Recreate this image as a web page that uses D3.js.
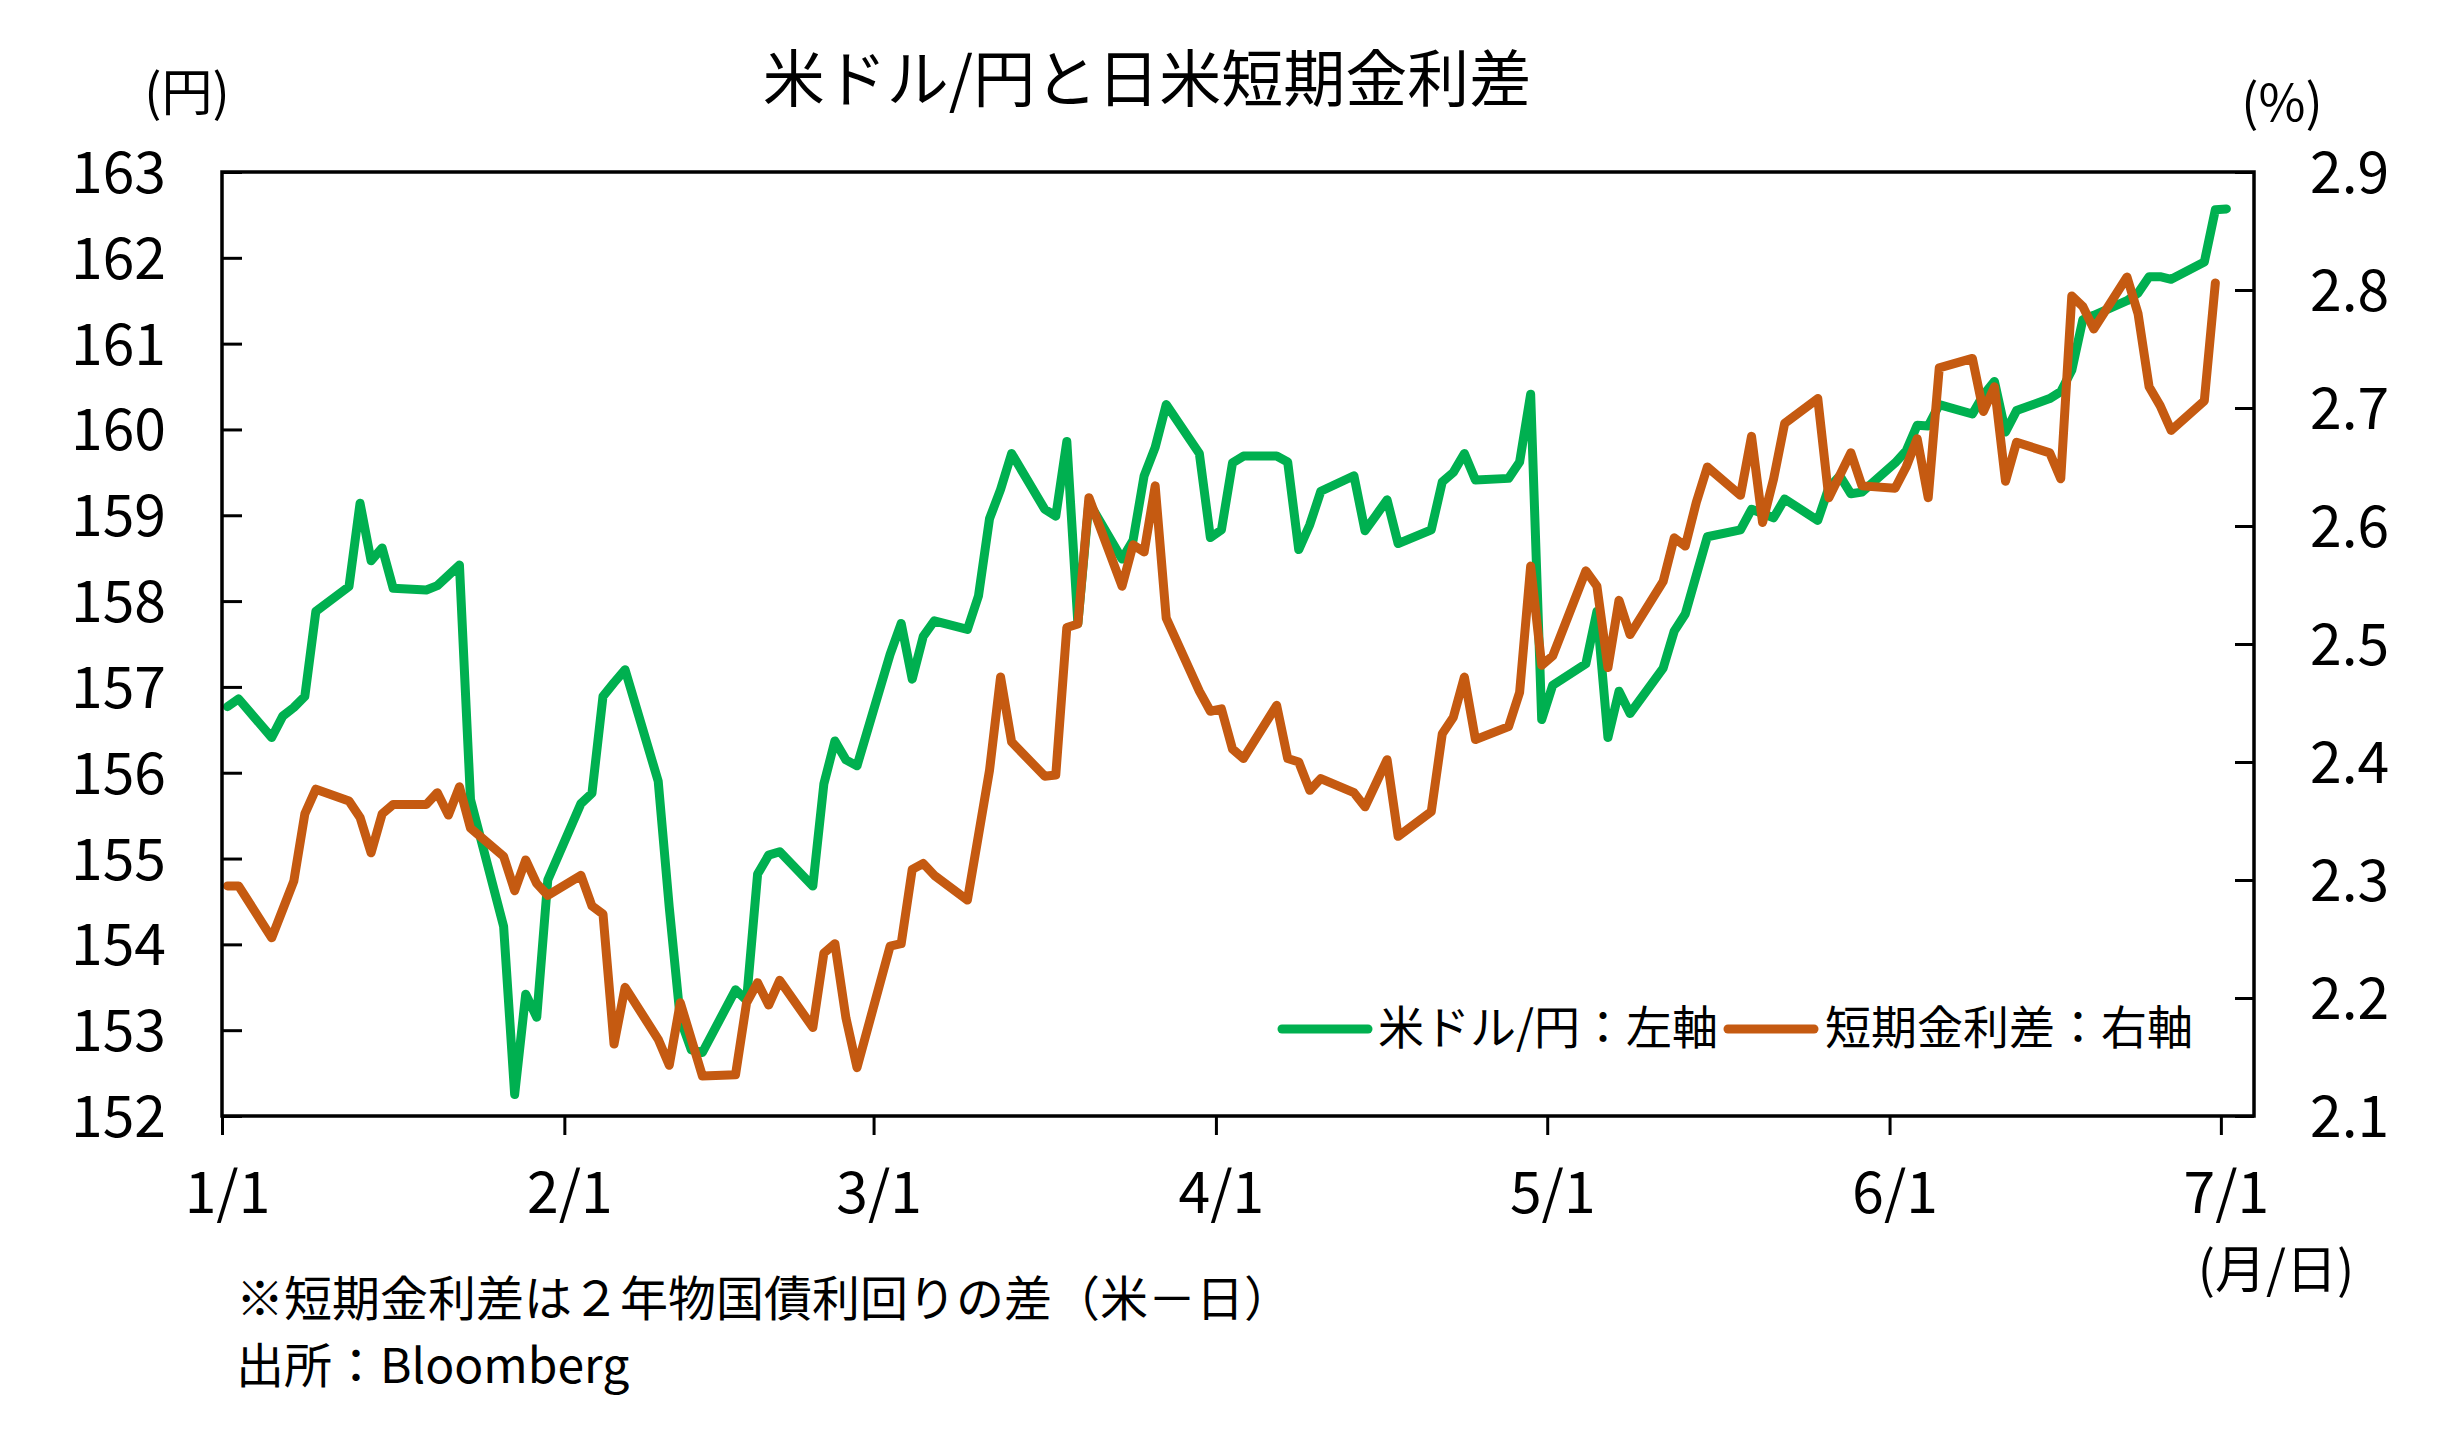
<!DOCTYPE html>
<html><head><meta charset="utf-8">
<script src="https://cdn.jsdelivr.net/npm/d3@7"></script>
<style>
body{margin:0;background:#fff;}
svg{display:block;}
text{font-family:"Noto Sans CJK JP","Noto Sans",sans-serif;fill:#000;}
</style>
</head><body>
<svg id="c" width="2458" height="1429"></svg>
<script>
// ---- data (weekday observations) ----
const dates = [
 "2026-01-01","2026-01-02","2026-01-05","2026-01-06","2026-01-07","2026-01-08","2026-01-09","2026-01-12","2026-01-13","2026-01-14","2026-01-15","2026-01-16","2026-01-19","2026-01-20","2026-01-21","2026-01-22","2026-01-23","2026-01-26","2026-01-27","2026-01-28","2026-01-29","2026-01-30",
 "2026-02-02","2026-02-03","2026-02-04","2026-02-05","2026-02-06","2026-02-09","2026-02-10","2026-02-11","2026-02-12","2026-02-13","2026-02-16","2026-02-17","2026-02-18","2026-02-19","2026-02-20","2026-02-23","2026-02-24","2026-02-25","2026-02-26","2026-02-27",
 "2026-03-02","2026-03-03","2026-03-04","2026-03-05","2026-03-06","2026-03-09","2026-03-10","2026-03-11","2026-03-12","2026-03-13","2026-03-16","2026-03-17","2026-03-18","2026-03-19","2026-03-20","2026-03-23","2026-03-24","2026-03-25","2026-03-26","2026-03-27","2026-03-30","2026-03-31",
 "2026-04-01","2026-04-02","2026-04-03","2026-04-06","2026-04-07","2026-04-08","2026-04-09","2026-04-10","2026-04-13","2026-04-14","2026-04-15","2026-04-16","2026-04-17","2026-04-20","2026-04-21","2026-04-22","2026-04-23","2026-04-24","2026-04-27","2026-04-28","2026-04-29","2026-04-30",
 "2026-05-01","2026-05-04","2026-05-05","2026-05-06","2026-05-07","2026-05-08","2026-05-11","2026-05-12","2026-05-13","2026-05-14","2026-05-15","2026-05-18","2026-05-19","2026-05-20","2026-05-21","2026-05-22","2026-05-25","2026-05-26","2026-05-27","2026-05-28","2026-05-29",
 "2026-06-01","2026-06-02","2026-06-03","2026-06-04","2026-06-05","2026-06-08","2026-06-09","2026-06-10","2026-06-11","2026-06-12","2026-06-15","2026-06-16","2026-06-17","2026-06-18","2026-06-19","2026-06-22","2026-06-23","2026-06-24","2026-06-25","2026-06-26","2026-06-29","2026-06-30",
 "2026-07-01"
];
const usdjpy = [
 156.77,156.86,156.41,156.66,156.76,156.89,157.88,158.17,159.14,158.47,158.62,158.15,158.13,158.18,158.30,158.42,155.69,154.21,152.25,153.42,153.15,154.75,
 155.64,155.76,156.89,157.05,157.20,155.90,154.43,153.13,152.77,152.74,153.47,153.35,154.82,155.04,155.08,154.68,155.87,156.37,156.15,156.08,
 157.38,157.74,157.09,157.59,157.77,157.67,158.06,158.96,159.30,159.72,159.07,158.99,159.86,157.74,159.15,158.49,158.71,159.46,159.79,160.29,159.72,158.74,
 158.83,159.61,159.69,159.69,159.62,158.60,158.89,159.28,159.46,158.82,159.00,159.18,158.67,158.83,159.39,159.50,159.72,159.41,159.43,159.62,160.41,156.62,
 157.02,157.27,157.88,156.41,156.95,156.69,157.22,157.65,157.85,158.30,158.75,158.83,159.07,159.02,158.97,159.19,158.94,159.32,159.46,159.25,159.27,
 159.61,159.75,160.05,160.04,160.29,160.18,160.40,160.56,159.97,160.22,160.36,160.44,160.69,161.28,161.33,161.50,161.59,161.78,161.78,161.75,161.95,162.56,
 162.57
];
const spread = [
 2.295,2.295,2.251,2.275,2.299,2.356,2.377,2.367,2.353,2.323,2.356,2.364,2.364,2.374,2.355,2.379,2.344,2.320,2.291,2.317,2.297,2.287,
 2.304,2.278,2.271,2.161,2.209,2.165,2.143,2.196,2.165,2.134,2.135,2.196,2.213,2.194,2.215,2.175,2.238,2.246,2.183,2.141,
 2.244,2.246,2.309,2.314,2.304,2.283,2.338,2.393,2.472,2.417,2.388,2.389,2.514,2.517,2.624,2.549,2.584,2.578,2.634,2.522,2.460,2.443,
 2.445,2.411,2.403,2.448,2.403,2.400,2.376,2.386,2.374,2.362,2.382,2.402,2.337,2.358,2.424,2.438,2.472,2.419,2.430,2.459,2.566,2.482,
 2.490,2.562,2.549,2.480,2.537,2.508,2.553,2.590,2.583,2.620,2.650,2.626,2.676,2.603,2.640,2.687,2.708,2.624,2.643,2.662,2.634,
 2.632,2.650,2.674,2.624,2.734,2.742,2.697,2.718,2.638,2.671,2.662,2.640,2.795,2.786,2.767,2.811,2.780,2.718,2.702,2.681,2.706,2.806,
 null
];
const yenTicks = [152,153,154,155,156,157,158,159,160,161,162,163];
const spreadTicks = [2.1,2.2,2.3,2.4,2.5,2.6,2.7,2.8,2.9];
const monthTicks = ["2026-01-01","2026-02-01","2026-03-01","2026-04-01","2026-05-01","2026-06-01","2026-07-01"];
const monthLabels = ["1/1","2/1","3/1","4/1","5/1","6/1","7/1"];
const seriesNames = ["米ドル/円：左軸","短期金利差：右軸"];
const colors = ["#00B050","#C55A11"];

// ---- layout ----
const L = 222, R = 2254, T = 172, B = 1116;
const svg = d3.select("#c");
const parse = d3.utcParse("%Y-%m-%d");

const x = d3.scaleUtc().domain([parse("2026-01-01"), parse("2026-07-04")]).range([L, R]);
const yL = d3.scaleLinear().domain([152, 163]).range([B, T]);
const yR = d3.scaleLinear().domain([2.1, 2.9]).range([B, T]);

const rows = dates.map((d, i) => ({ t: d3.utcHour.offset(parse(d), 12), a: usdjpy[i], b: spread[i] }));

// title & unit labels
svg.append("text").attr("x", 1147).attr("y", 102).attr("text-anchor", "middle")
  .style("font-size", "62px").text("米ドル/円と日米短期金利差");
svg.append("text").attr("x", 187).attr("y", 111).attr("text-anchor", "middle")
  .style("font-size", "51px").text("(円)");
svg.append("text").attr("x", 2282).attr("y", 121).attr("text-anchor", "middle")
  .style("font-size", "51px").text("(%)");
svg.append("text").attr("x", 2276).attr("y", 1288).attr("text-anchor", "middle")
  .style("font-size", "51px").text("(月/日)");

// footnotes
svg.append("text").attr("x", 236).attr("y", 1316).style("font-size", "48px")
  .text("※短期金利差は２年物国債利回りの差（米－日）");
svg.append("text").attr("x", 236).attr("y", 1383).style("font-size", "48px")
  .text("出所：Bloomberg");

// lines
const lineA = d3.line().x(d => x(d.t)).y(d => yL(d.a)).defined(d => d.a != null);
const lineB = d3.line().x(d => x(d.t)).y(d => yR(d.b)).defined(d => d.b != null);

svg.append("path").datum(rows).attr("d", lineA).attr("fill", "none")
  .attr("stroke", colors[0]).attr("stroke-width", 9)
  .attr("stroke-linejoin", "round").attr("stroke-linecap", "round");
svg.append("path").datum(rows).attr("d", lineB).attr("fill", "none")
  .attr("stroke", colors[1]).attr("stroke-width", 9)
  .attr("stroke-linejoin", "round").attr("stroke-linecap", "round");

// axes
const axL = svg.append("g").attr("transform", `translate(${L},0)`)
  .call(d3.axisLeft(yL).tickValues(yenTicks).tickSize(-20).tickPadding(56).tickFormat(d3.format("d")));
const axR = svg.append("g").attr("transform", `translate(${R},0)`)
  .call(d3.axisRight(yR).tickValues(spreadTicks).tickSize(-19).tickPadding(56).tickFormat(d3.format(".1f")));
const axB = svg.append("g").attr("transform", `translate(0,${B})`)
  .call(d3.axisBottom(x).tickValues(monthTicks.map(parse)).tickSize(19)
    .tickFormat((d, i) => monthLabels[i]));

[axL, axR, axB].forEach(g => {
  g.select(".domain").remove();
  g.selectAll(".tick line").attr("stroke", "#000").attr("stroke-width", 3);
  g.selectAll(".tick text").style("font-size", "57px").attr("fill", "#000");
});
axL.selectAll(".tick text").attr("dy", "0.36em");
axR.selectAll(".tick text").attr("dy", "0.36em");
axB.selectAll(".tick text").attr("y", 97).attr("dy", null).attr("x", 5);

// frame
svg.append("rect").attr("x", L).attr("y", T).attr("width", R - L).attr("height", B - T)
  .attr("fill", "none").attr("stroke", "#000").attr("stroke-width", 3.5);

// legend
const leg = [
  { name: seriesNames[0], color: colors[0], x0: 1282, x1: 1368, tx: 1378 },
  { name: seriesNames[1], color: colors[1], x0: 1728, x1: 1814, tx: 1825 }
];
const lg = svg.append("g");
leg.forEach(e => {
  lg.append("line").attr("x1", e.x0).attr("x2", e.x1).attr("y1", 1029).attr("y2", 1029)
    .attr("stroke", e.color).attr("stroke-width", 9).attr("stroke-linecap", "round");
  lg.append("text").attr("x", e.tx).attr("y", 1044).style("font-size", "46px").text(e.name);
});
</script>
</body></html>
